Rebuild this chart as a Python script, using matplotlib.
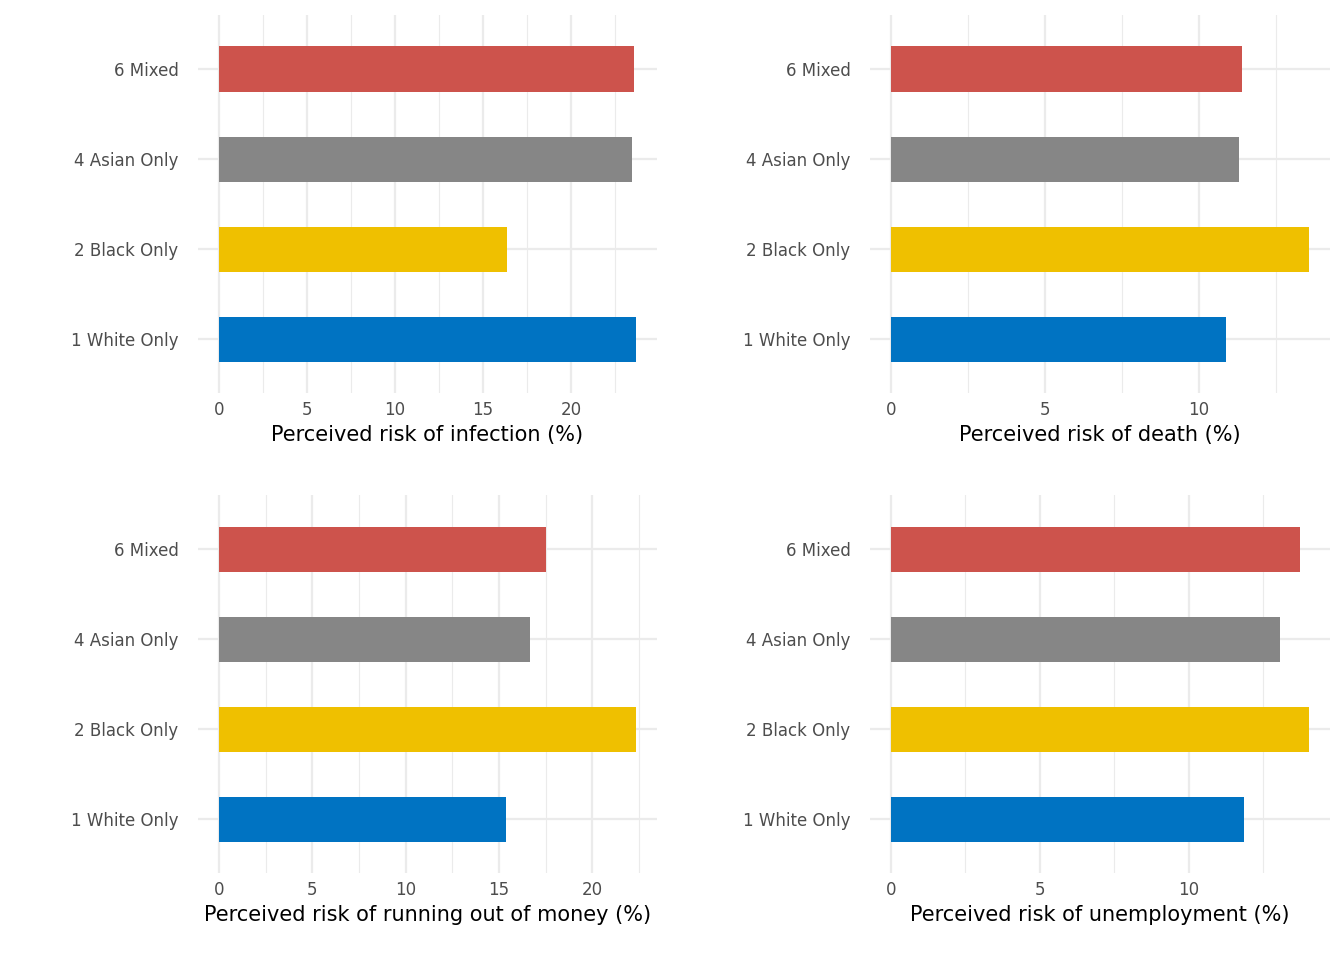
import matplotlib.pyplot as plt
import numpy as np

groups = ["1 White Only", "2 Black Only", "4 Asian Only", "6 Mixed"]
colors = ["#0073C2", "#EFC000", "#868686", "#CD534C"]

infection = [23.68, 16.37, 23.46, 23.57]
death = [10.88, 13.57, 11.30, 11.40]
money = [15.40, 22.35, 16.68, 17.54]
unemployment = [11.85, 14.03, 13.05, 13.72]

panels = [
    (infection, "Perceived risk of infection (%)", [0, 5, 10, 15, 20]),
    (death, "Perceived risk of death (%)", [0, 5, 10]),
    (money, "Perceived risk of running out of money (%)", [0, 5, 10, 15, 20]),
    (unemployment, "Perceived risk of unemployment (%)", [0, 5, 10]),
]

W, H = 1344, 960
boxes = [(198, 15, 657, 393), (870, 15, 1330, 393),
         (198, 495, 657, 873), (870, 495, 1330, 873)]

fig = plt.figure(figsize=(13.44, 9.6), dpi=100)
grid = "#EBEBEB"
for (vals, title, ticks), (l, t, r, b) in zip(panels, boxes):
    ax = fig.add_axes([l / W, 1 - b / H, (r - l) / W, (b - t) / H])
    y = np.arange(1, 5)
    mx = max(vals)
    ax.set_xlim(-0.05 * mx, 1.05 * mx)
    ax.set_ylim(0.4, 4.6)
    minor = [v + 2.5 for v in ticks if v + 2.5 < 1.05 * mx]
    for m in minor:
        ax.axvline(m, color=grid, lw=0.8, zorder=0)
    for v in ticks:
        ax.axvline(v, color=grid, lw=1.6, zorder=0)
    for yy in y:
        ax.axhline(yy, color=grid, lw=1.6, zorder=0)
    ax.barh(y, vals, height=0.5, color=colors, zorder=2)
    ax.set_yticks(y)
    ax.set_yticklabels(groups, fontsize=12, color="#4D4D4D")
    ax.set_xticks(ticks)
    ax.set_xticklabels([str(v) for v in ticks], fontsize=12, color="#4D4D4D")
    ax.tick_params(length=0, pad=6)
    ax.tick_params(axis="y", pad=14)
    ax.set_xlabel(title, fontsize=15, labelpad=4)
    for s in ax.spines.values():
        s.set_visible(False)

fig.savefig("out.png", dpi=100)
